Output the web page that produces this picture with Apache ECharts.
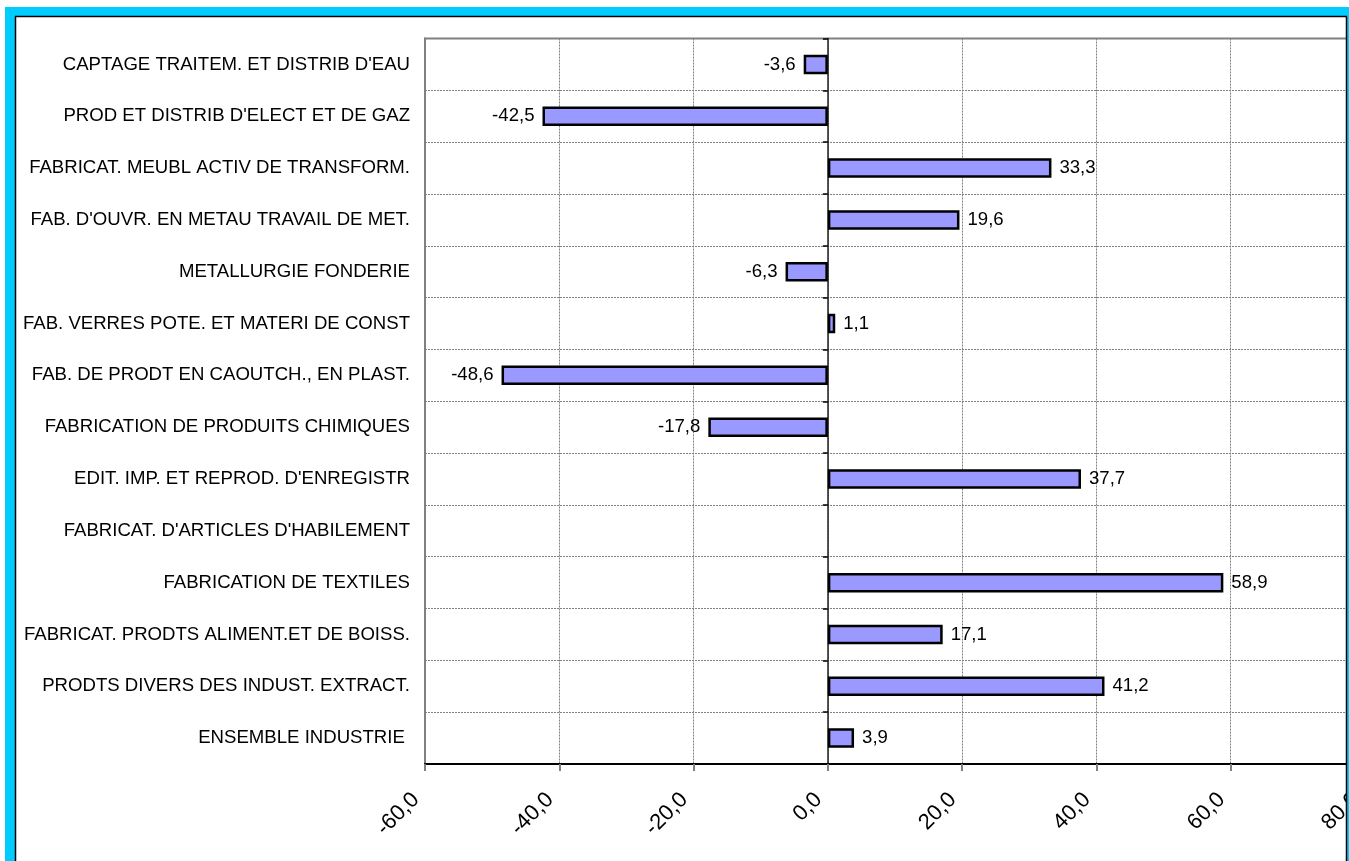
<!DOCTYPE html>
<html><head><meta charset="utf-8">
<script src="https://cdn.jsdelivr.net/npm/echarts@6/dist/echarts.min.js"></script>
<style>html,body{margin:0;padding:0;background:#fff;overflow:hidden;width:1349px;height:861px}#c{width:1380px;height:861px}</style>
</head><body><div id="c"></div>
<script>
// top to bottom order
const categories = [
  "CAPTAGE TRAITEM. ET DISTRIB D'EAU",
  "PROD ET DISTRIB D'ELECT ET DE GAZ",
  "FABRICAT. MEUBL ACTIV DE TRANSFORM.",
  "FAB. D'OUVR. EN METAU TRAVAIL DE MET.",
  "METALLURGIE FONDERIE",
  "FAB. VERRES POTE. ET MATERI DE CONST",
  "FAB. DE PRODT EN CAOUTCH., EN PLAST.",
  "FABRICATION DE PRODUITS CHIMIQUES",
  "EDIT. IMP. ET REPROD. D'ENREGISTR",
  "FABRICAT. D'ARTICLES D'HABILEMENT",
  "FABRICATION DE TEXTILES",
  "FABRICAT. PRODTS ALIMENT.ET DE BOISS.",
  "PRODTS DIVERS DES INDUST. EXTRACT.",
  "ENSEMBLE INDUSTRIE "
];
const values = [-3.6, -42.5, 33.3, 19.6, -6.3, 1.1, -48.6, -17.8, 37.7, null, 58.9, 17.1, 41.2, 3.9];
const xMin = -60, xMax = 80, xStep = 20;

const FONT = "'Liberation Sans', Arial, sans-serif";
const FS = 18.6;
const fmt = v => v.toFixed(1).replace('.', ',');

const chart = echarts.init(document.getElementById('c'), null, {renderer: 'canvas'});
const seriesData = values.map(v => v === null ? '-' : {
  value: v,
  label: {position: v < 0 ? 'left' : 'right'}
});

chart.setOption({
  animation: false,
  backgroundColor: '#fff',
  grid: {left: 425, top: 38.5, width: 940, height: 725.5, show: true, borderColor: '#808080', borderWidth: 2, backgroundColor: 'transparent'},
  xAxis: {
    type: 'value', min: xMin, max: xMax, interval: xStep, position: 'bottom',
    axisLine: {show: true, onZero: false, lineStyle: {color: '#000', width: 2}},
    axisTick: {show: true, length: 7, lineStyle: {color: '#808080', width: 2}},
    axisLabel: {rotate: 45, margin: 23, padding: [0, 13, 0, 0], fontSize: 22, color: '#000', fontFamily: FONT, formatter: fmt},
    splitLine: {show: true, lineStyle: {color: '#808080', width: 1, type: [2, 1]}}
  },
  yAxis: [{
    type: 'category', data: categories, inverse: true, position: 'left',
    axisLine: {show: true, onZero: false, lineStyle: {color: '#808080', width: 2}},
    axisTick: {show: false},
    axisLabel: {margin: 15, fontSize: FS, color: '#000', fontFamily: FONT, interval: 0},
    splitLine: {show: true, lineStyle: {color: '#808080', width: 1, type: [2, 1]}}
  }, {
    type: 'category', data: categories, inverse: true, position: 'left',
    axisLine: {show: true, onZero: true, lineStyle: {color: '#222', width: 1.5}},
    axisTick: {show: true, length: 5, interval: 0, lineStyle: {color: '#000', width: 1.5}},
    axisLabel: {show: false},
    splitLine: {show: false}
  }],
  series: [{
    type: 'bar', yAxisIndex: 0, data: seriesData, barWidth: 19.5,
    itemStyle: {color: '#9999FF', borderColor: '#000', borderWidth: 2.5},
    label: {show: true, distance: 8, fontSize: FS, color: '#000', fontFamily: FONT,
      formatter: p => fmt(p.value)}
  }],
  graphic: [
    {type: 'rect', z: 100, shape: {x: 5, y: 7, width: 10, height: 854}, style: {fill: '#00CCFF'}},
    {type: 'rect', z: 100, shape: {x: 5, y: 7, width: 1380, height: 10}, style: {fill: '#00CCFF'}},
    {type: 'rect', z: 100, shape: {x: 1347, y: 7, width: 40, height: 854}, style: {fill: '#00CCFF'}},
    {type: 'line', z: 101, shape: {x1: 15.5, y1: 16.5, x2: 15.5, y2: 861}, style: {stroke: '#000', lineWidth: 1.5}},
    {type: 'line', z: 101, shape: {x1: 15, y1: 16.5, x2: 1347, y2: 16.5}, style: {stroke: '#000', lineWidth: 1.5}},
    {type: 'line', z: 101, shape: {x1: 1346.5, y1: 16.5, x2: 1346.5, y2: 861}, style: {stroke: '#000', lineWidth: 1.5}}
  ]
});
</script></body></html>
